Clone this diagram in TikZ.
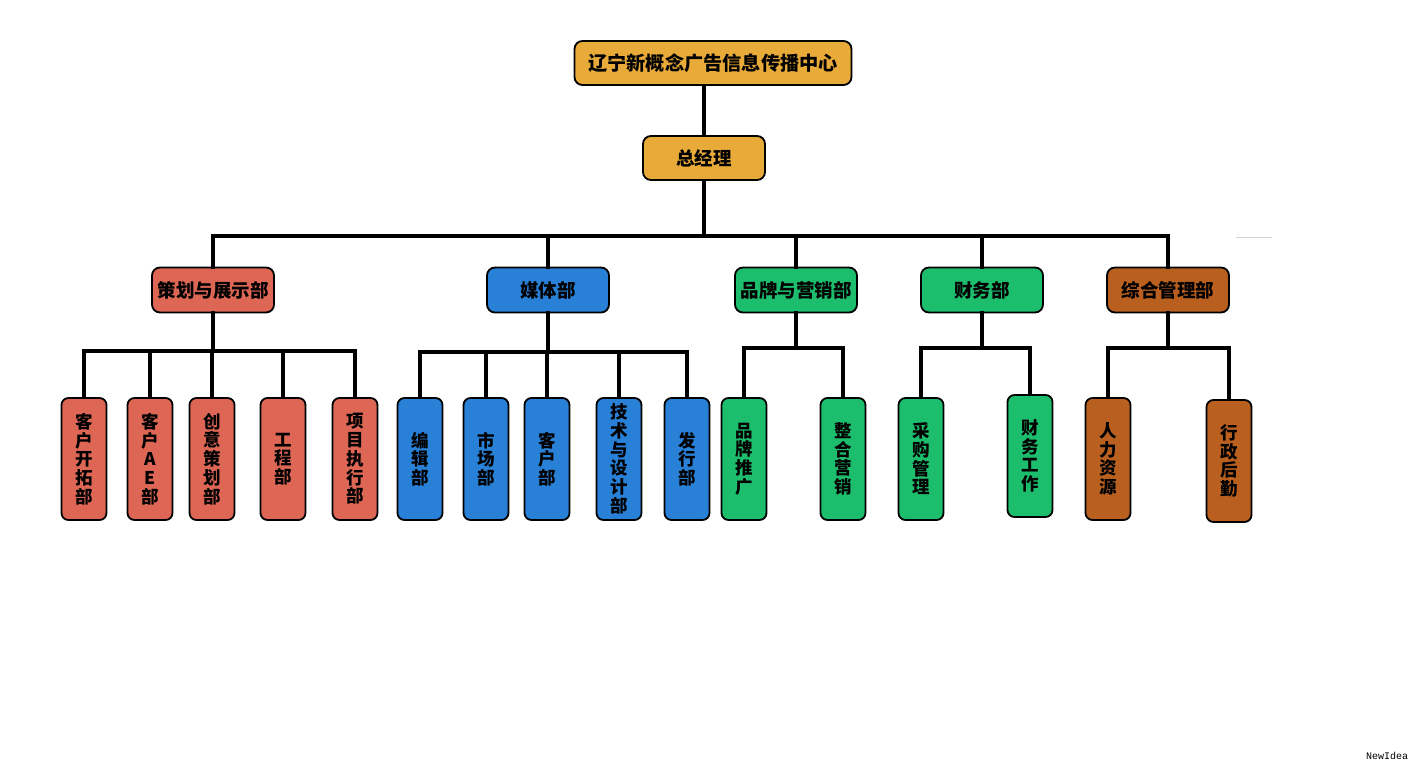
\documentclass[tikz,border=0pt]{standalone}
\usepackage{fontspec}
\usepackage{tikz}
\usetikzlibrary{positioning}
\newfontfamily\cjk{Noto Sans CJK SC}
\newfontfamily\markfont{Liberation Mono}
\definecolor{headColor}{RGB}{232, 170, 56}
\definecolor{planColor}{RGB}{221, 102, 85}
\definecolor{mediaColor}{RGB}{40, 128, 215}
\definecolor{brandColor}{RGB}{28, 190, 110}
\definecolor{adminColor}{RGB}{185, 96, 32}

\begin{document}
\begin{tikzpicture}[
    x=1pt, y=-1pt,
    unit/.style={
        rectangle,
        draw=black,
        line width=1.8pt,
        fill=#1,
        minimum width=122pt,
        minimum height=45pt,
        inner sep=0pt,
        rounded corners=8pt,
        font=\cjk\bfseries\fontsize{18.5}{20}\selectfont
    },
    sub/.style={
        rectangle,
        draw=black,
        line width=1.8pt,
        fill=#1,
        minimum width=45pt,
        minimum height=122pt,
        inner sep=0pt,
        rounded corners=7pt,
        align=center,
        font=\cjk\bfseries\fontsize{17.5}{18.7}\selectfont
    },
    link/.style={line width=4.2pt, line cap=rect}
]
    \useasboundingbox (0,0) rectangle (1417,768);

    % Bus levels
    \coordinate (b0) at (0,236);
    \coordinate (b1) at (0,351);
    \coordinate (b2) at (0,352);
    \coordinate (b3) at (0,348);

    % Head
    \node[unit=headColor, minimum width=277pt, minimum height=44pt, font=\cjk\bfseries\fontsize{19.2}{20}\selectfont] (head) at (713,63) {辽宁新概念广告信息传播中心};
    \node[unit=headColor, minimum height=44pt] (gm) at (704,158) {总经理};
    \draw[link] (head.south -| gm) -- (gm.north);
    \draw[link] (gm.south) -- (gm.south |- b0);

    % Departments
    \node[unit=planColor] (plan) at (213,290) {策划与展示部};
    \node[unit=mediaColor] (media) at (548,290) {媒体部};
    \node[unit=brandColor] (brand) at (796,290) {品牌与营销部};
    \node[unit=brandColor] (fin) at (982,290) {财务部};
    \node[unit=adminColor] (admin) at (1168,290) {综合管理部};

    \draw[link] (plan.north |- b0) -- (admin.north |- b0);
    \foreach \d in {plan, media, brand, fin, admin} {
        \draw[link] (\d.north |- b0) -- (\d.north);
    }
    \draw[gray!35, line width=1pt] (1236,237) -- (1272,237);

    % 策划与展示部
    \foreach \n/\x/\t in {pa/84/客\\户\\开\\拓\\部, pb/150/客\\户\\A\\E\\部, pc/212/创\\意\\策\\划\\部, pd/283/工\\程\\部, pe/355/项\\目\\执\\行\\部} {
        \node[sub=planColor] (\n) at (\x,459) {\t};
        \draw[link] (\n.north |- b1) -- (\n.north);
    }
    \draw[link] (plan.south) -- (plan.south |- b1);
    \draw[link] (pa.north |- b1) -- (pe.north |- b1);

    % 媒体部
    \foreach \n/\x/\t in {ma/420/编\\辑\\部, mb/486/市\\场\\部, mc/547/客\\户\\部, md/619/技\\术\\与\\设\\计\\部, me/687/发\\行\\部} {
        \node[sub=mediaColor] (\n) at (\x,459) {\t};
        \draw[link] (\n.north |- b2) -- (\n.north);
    }
    \draw[link] (media.south) -- (media.south |- b2);
    \draw[link] (ma.north |- b2) -- (me.north |- b2);

    % 品牌与营销部
    \node[sub=brandColor] (ba) at (744,459) {品\\牌\\推\\广};
    \node[sub=brandColor] (bb) at (843,459) {整\\合\\营\\销};
    \draw[link] (brand.south) -- (brand.south |- b3);
    \draw[link] (ba.north |- b3) -- (bb.north |- b3);
    \foreach \n in {ba, bb} {
        \draw[link] (\n.north |- b3) -- (\n.north);
    }

    % 财务部
    \node[sub=brandColor] (fa) at (921,459) {采\\购\\管\\理};
    \node[sub=brandColor] (fb) at (1030,456) {财\\务\\工\\作};
    \draw[link] (fin.south) -- (fin.south |- b3);
    \draw[link] (fa.north |- b3) -- (fb.north |- b3);
    \foreach \n in {fa, fb} {
        \draw[link] (\n.north |- b3) -- (\n.north);
    }

    % 综合管理部
    \node[sub=adminColor] (aa) at (1108,459) {人\\力\\资\\源};
    \node[sub=adminColor] (ab) at (1229,461) {行\\政\\后\\勤};
    \draw[link] (admin.south) -- (admin.south |- b3);
    \draw[link] (aa.north |- b3) -- (ab.north |- b3);
    \foreach \n in {aa, ab} {
        \draw[link] (\n.north |- b3) -- (\n.north);
    }

    % Mark
    \node[font=\markfont\fontsize{10}{11}\selectfont] (mark) at (1387,756) {NewIdea};

\end{tikzpicture}
\end{document}
